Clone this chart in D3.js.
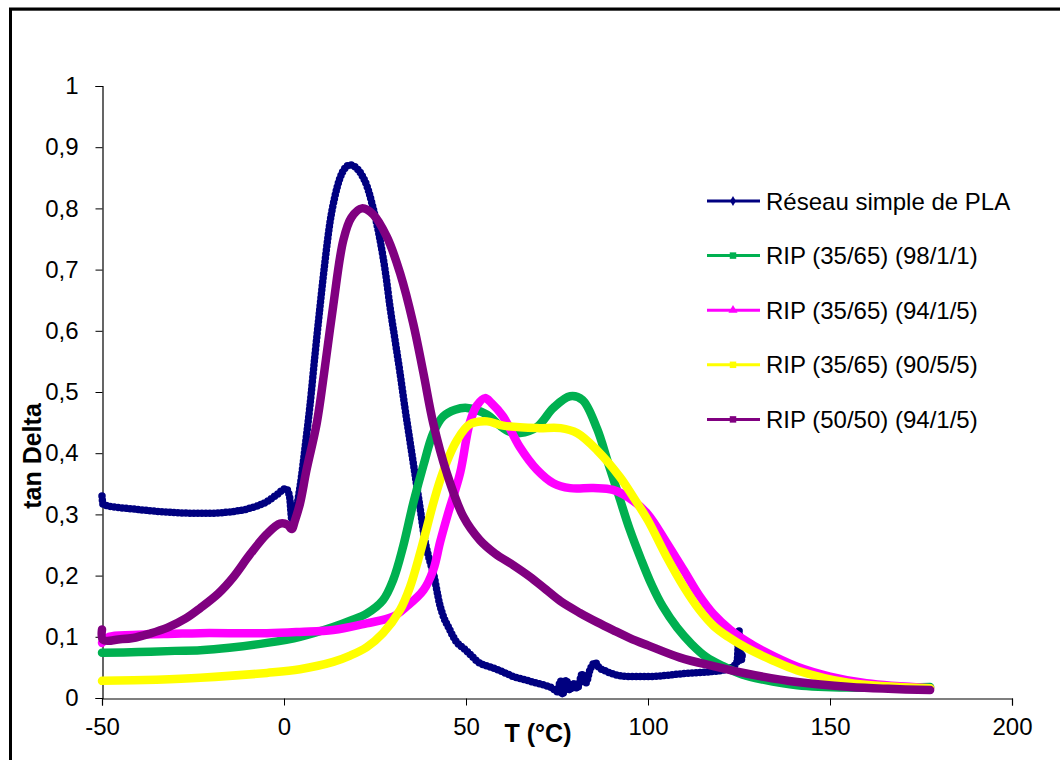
<!DOCTYPE html>
<html>
<head>
<meta charset="utf-8">
<script src="https://cdn.jsdelivr.net/npm/d3@7"></script>
<style>
  html, body { margin: 0; padding: 0; background: #fff; }
  svg { display: block; }
  text { font-family: "Liberation Sans", Arial, sans-serif; fill: #000; }
</style>
</head>
<body>
<svg id="chart" width="1060" height="760"></svg>
<script>
// tan Delta versus temperature (°C) for several networks
const xTicks = [-50, 0, 50, 100, 150, 200];
const yTicks = [0, 0.1, 0.2, 0.3, 0.4, 0.5, 0.6, 0.7, 0.8, 0.9, 1];

const seriesNames = [
  "Réseau simple de PLA",
  "RIP (35/65) (98/1/1)",
  "RIP (35/65) (94/1/5)",
  "RIP (35/65) (90/5/5)",
  "RIP (50/50) (94/1/5)"
];
const seriesColors = ["#000080", "#00B050", "#FF00FF", "#FFFF00", "#800080"];
const seriesMarkers = ["diamond", "square", "triangle", "square", "square"];

// [T (°C), tan Delta]
const plaSimple = [
  [-50,0.330],[-49.7,0.316],[-45,0.311],[-40,0.308],[-35,0.305],[-30,0.303],[-25,0.302],
  [-20,0.302],[-15,0.304],[-10,0.309],[-5,0.320],[-2,0.332],[0.5,0.342],[1.5,0.330],
  [2.2,0.290],[3,0.300],[4.4,0.345],[6,0.420],[7.1,0.476],[8.5,0.56],[9.9,0.64],
  [11.2,0.71],[12.6,0.776],[14,0.82],[15.4,0.85],[16.8,0.866],[18.1,0.871],[19.5,0.868],
  [21,0.858],[22.7,0.838],[24.5,0.80],[26.4,0.748],[28,0.69],[29.1,0.64],[30.5,0.585],
  [31.9,0.53],[33.2,0.475],[34.6,0.42],[36,0.365],[37.4,0.31],[38.7,0.258],[40,0.225],
  [41,0.205],[42.9,0.15],[44,0.13],[45,0.118],[47,0.095],[50,0.078],[53.8,0.057],
  [57,0.05],[60,0.043],[63,0.035],[66,0.03],[69,0.025],[72,0.02],[74,0.015],[75,0.01],
  [76,0.028],[76.5,0.005],[77.5,0.03],[78.5,0.012],[79.5,0.025],[80.5,0.015],[82,0.04],
  [83,0.025],[84,0.045],[85.5,0.058],[86.5,0.05],[88,0.045],[90,0.04],[95,0.035],
  [100,0.035],[105,0.037],[110,0.04],[115,0.042],[120,0.045],[123,0.05],[124.5,0.06],
  [125,0.11],[125.5,0.06],[126,0.075]
];
const rip3565_98 = [
  [-50,0.074],[-40,0.075],[-30,0.077],[-23,0.078],[-15,0.082],[-4.7,0.09],[4.4,0.1],
  [13.5,0.116],[18,0.126],[22.7,0.138],[27.2,0.16],[30,0.193],[32.7,0.247],[35.5,0.318],
  [38.3,0.38],[41,0.433],[43.7,0.46],[47,0.471],[50.3,0.474],[55.8,0.463],[59.3,0.445],
  [62,0.435],[64.8,0.433],[69.5,0.443],[74,0.474],[78.6,0.493],[82,0.487],[86,0.44],
  [89,0.385],[92,0.33],[95,0.275],[98,0.228],[101,0.185],[104,0.15],[108,0.115],
  [112,0.088],[116,0.067],[120.6,0.052],[126,0.038],[131.6,0.03],[141,0.021],[155,0.017],
  [177.5,0.018]
];
const rip3565_94 = [
  [-50,0.09],[-48,0.1],[-41.5,0.103],[-30,0.105],[-23,0.106],[-4.7,0.106],[4.4,0.108],
  [13.5,0.111],[22.7,0.122],[30,0.133],[33.6,0.149],[38.3,0.176],[41,0.209],[42.9,0.255],
  [45,0.3],[48.4,0.368],[51,0.449],[53,0.478],[55.2,0.49],[57,0.482],[60.2,0.46],
  [64.8,0.41],[69.5,0.373],[74,0.351],[78.6,0.343],[85,0.343],[90.4,0.34],[96,0.322],
  [100,0.3],[105,0.255],[110,0.207],[114,0.168],[118,0.137],[122.5,0.112],[127,0.093],
  [131.6,0.077],[141,0.051],[150,0.035],[160,0.024],[177.5,0.016]
];
const rip3565_90 = [
  [-50,0.028],[-35,0.03],[-23,0.033],[-4.7,0.041],[4.4,0.047],[13.5,0.059],[18,0.069],
  [22.7,0.083],[27.2,0.106],[31.9,0.144],[34.6,0.181],[37.4,0.237],[41,0.318],[42.9,0.356],
  [45,0.39],[47.4,0.42],[51,0.447],[55.8,0.452],[60.2,0.445],[69.5,0.441],[76,0.441],
  [80.5,0.433],[86,0.405],[92.3,0.361],[96,0.328],[100,0.29],[105,0.232],[110,0.18],
  [114,0.145],[118,0.118],[122,0.1],[127,0.082],[134,0.062],[141,0.045],[155,0.025],
  [177.5,0.016]
];
const rip5050_94 = [
  [-50,0.112],[-49.7,0.095],[-45,0.096],[-41.5,0.098],[-37,0.105],[-32,0.115],[-27,0.13],
  [-23,0.147],[-18,0.171],[-14,0.197],[-9.3,0.235],[-4.7,0.268],[-1.1,0.285],[1,0.283],
  [2.1,0.276],[3,0.29],[4.4,0.318],[6.2,0.373],[9,0.449],[11,0.53],[13.5,0.64],
  [16.3,0.748],[18.5,0.785],[21.4,0.80],[24.5,0.79],[28.3,0.753],[31.9,0.694],[35.5,0.612],
  [38.3,0.531],[41,0.449],[44.7,0.368],[49.3,0.296],[53.8,0.258],[58,0.236],[63,0.217],
  [67.6,0.198],[72,0.177],[76,0.158],[81.3,0.139],[86,0.124],[90.4,0.111],[95,0.098],
  [100,0.086],[108.8,0.066],[118,0.052],[127,0.04],[141,0.026],[155.5,0.018],[166,0.015],
  [177.5,0.013]
];
const seriesData = [plaSimple, rip3565_98, rip3565_94, rip3565_90, rip5050_94];

const svg = d3.select("#chart");

// outer chart frame
svg.append("rect")
  .attr("x", 11.5).attr("y", 10.5).attr("width", 1100).attr("height", 800)
  .attr("fill", "none").attr("stroke", "#999").attr("stroke-width", 1);
svg.append("rect")
  .attr("x", 10.5).attr("y", 9).attr("width", 1100).attr("height", 800)
  .attr("fill", "none").attr("stroke", "#000").attr("stroke-width", 3);

const x = d3.scaleLinear().domain([-50, 200]).range([102, 1012]);
const y = d3.scaleLinear().domain([0, 1]).range([698, 86]);

const fmtY = v => d3.format("~g")(+v.toFixed(1)).replace(".", ",");
const fmtX = v => String(v);

// y axis
const yAxis = svg.append("g")
  .attr("transform", "translate(102.5,0)")
  .call(d3.axisLeft(y).tickValues(yTicks).tickSize(7).tickPadding(17).tickFormat(fmtY));
yAxis.select(".domain").attr("stroke", "#000").attr("stroke-width", 1.2);
yAxis.selectAll(".tick line").attr("stroke", "#000");
yAxis.selectAll(".tick text")
  .style("font-family", "'Liberation Sans', Arial, sans-serif")
  .style("font-size", "24px").attr("fill", "#000");

// x axis
const xAxis = svg.append("g")
  .attr("transform", "translate(0,698.5)")
  .call(d3.axisBottom(x).tickValues(xTicks).tickSize(7).tickPadding(12).tickFormat(fmtX));
xAxis.select(".domain").attr("stroke", "#000").attr("stroke-width", 1.2);
xAxis.selectAll(".tick line").attr("stroke", "#000");
xAxis.selectAll(".tick text")
  .style("font-family", "'Liberation Sans', Arial, sans-serif")
  .style("font-size", "24px").attr("fill", "#000");

// axis titles
svg.append("text")
  .attr("transform", "translate(41,456) rotate(-90)")
  .attr("text-anchor", "middle")
  .style("font-size", "25px").style("font-weight", "bold")
  .text("tan Delta");
svg.append("text")
  .attr("x", 538).attr("y", 742)
  .attr("text-anchor", "middle")
  .style("font-size", "25px").style("font-weight", "bold")
  .text("T (°C)");

// curves
const lineNoisy = d3.line()
  .x(d => x(d[0])).y(d => y(d[1]))
  .curve(d3.curveMonotoneX);
const lineSmooth = d3.line()
  .x(d => x(d[0])).y(d => y(d[1]))
  .curve(d3.curveCatmullRom.alpha(0.5));

const plot = svg.append("g");
seriesData.forEach((data, i) => {
  const g = plot.append("g");
  if (i === 0) {
    g.append("path").attr("d", lineNoisy(data))
      .attr("fill", "none").attr("stroke", seriesColors[i])
      .attr("stroke-width", 5).attr("stroke-linejoin", "round");
    // beaded diamond-marker look along the curve
    g.append("path").attr("d", lineNoisy(data))
      .attr("fill", "none").attr("stroke", seriesColors[i])
      .attr("stroke-width", 7.5).attr("stroke-linecap", "round")
      .attr("stroke-dasharray", "0 4");
  } else {
    g.append("path").attr("d", lineSmooth(data))
      .attr("fill", "none").attr("stroke", seriesColors[i])
      .attr("stroke-width", 8.5).attr("stroke-linejoin", "round")
      .attr("stroke-linecap", "round");
  }
});

// legend
const markerPath = {
  diamond: d3.symbol(d3.symbolDiamond, 30)(),
  square: d3.symbol(d3.symbolSquare, 42)(),
  triangle: d3.symbol(d3.symbolTriangle, 36)()
};
const legend = svg.append("g");
seriesNames.forEach((name, i) => {
  const ry = 201 + i * 54.6;
  const row = legend.append("g").attr("transform", `translate(0,${ry})`);
  row.append("line")
    .attr("x1", 707).attr("x2", 760).attr("y1", 0).attr("y2", 0)
    .attr("stroke", seriesColors[i]).attr("stroke-width", 3);
  row.append("path")
    .attr("d", markerPath[seriesMarkers[i]])
    .attr("transform", "translate(733,0)")
    .attr("fill", seriesColors[i]);
  row.append("text")
    .attr("x", 766).attr("y", 8.5)
    .style("font-size", "24px")
    .text(name);
});
</script>
</body>
</html>
